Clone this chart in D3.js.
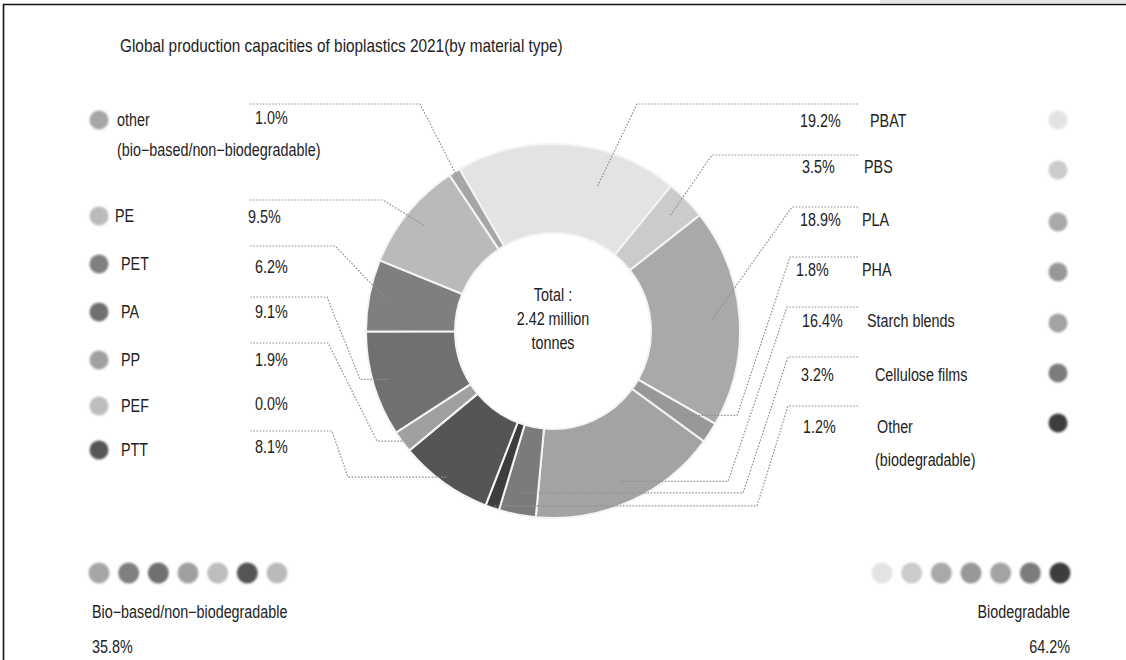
<!DOCTYPE html>
<html>
<head>
<meta charset="utf-8">
<script src="https://cdn.jsdelivr.net/npm/d3@7"></script>
<style>
  html, body { margin: 0; padding: 0; background: #fff; }
  svg { display: block; }
  text { font-family: "Liberation Sans", Arial, sans-serif; fill: #222; }
</style>
</head>
<body>
<svg id="chart" width="1126" height="660"></svg>
<script>
// Bioplastics production capacity shares 2021, in ring order (clockwise from PBAT)
const materials = ["PBAT", "PBS", "PLA", "PHA", "Starch blends", "Cellulose films", "Other (biodegradable)",
                   "PTT", "PEF", "PP", "PA", "PET", "PE", "other (bio-based/non-biodegradable)"];
const shares = [19.2, 3.5, 18.9, 1.8, 16.4, 3.2, 1.2, 8.1, 0.0, 1.9, 9.1, 6.2, 9.5, 1.0];
const greys  = ["#e3e3e3", "#cbcbcb", "#a9a9a9", "#989898", "#a3a3a3", "#7b7b7b", "#3d3d3d",
                "#555555", "#bdbdbd", "#a0a0a0", "#707070", "#7f7f7f", "#bababa", "#a6a6a6"];

// Group totals
const groupLabels = ["Bio\u2212based/non\u2212biodegradable", "Biodegradable"];
const groupShares = [35.8, 64.2];
const totalText = ["Total :", "2.42 million", "tonnes"];

// Bottom swatch rows (material keys)
const leftRow  = ["other (bio-based/non-biodegradable)", "PET", "PA", "PP", "PEF", "PTT", "PE"];
const rightRow = ["PBAT", "PBS", "PLA", "PHA", "Starch blends", "Cellulose films", "Other (biodegradable)"];

const svg = d3.select("#chart");
const cx = 553, cy = 331, rOut = 187, rIn = 98;
const deg = Math.PI / 180;
const start = -30 * deg;

const idx = Object.fromEntries(materials.map((m, i) => [m, i]));
const color = d3.scaleOrdinal().domain(materials).range(greys);
const fmt = d3.format(".1f");

// narrow-set text: glyphs compressed horizontally around the anchor point
function label(parent, x, y, str, opt = {}) {
  const sx = opt.sx || 0.82;
  return parent.append("text")
    .attr("transform", `translate(${x},${y}) scale(${sx},1)`)
    .attr("text-anchor", opt.anchor || "start")
    .style("font-size", (opt.size || 17.5) + "px")
    .text(str);
}

// frame
svg.append("rect").attr("x", 880).attr("y", 0).attr("width", 246).attr("height", 3).attr("fill", "#e6e6e6");
svg.append("path").attr("d", "M3.5,660V4.5H1126").attr("fill", "none").attr("stroke", "#111").attr("stroke-width", 1.6);

// soft edge for swatches
const defs = svg.append("defs");
defs.append("filter").attr("id", "soft").attr("x", "-50%").attr("y", "-50%").attr("width", "200%").attr("height", "200%")
  .append("feGaussianBlur").attr("stdDeviation", 0.9);

// title
label(svg, 120, 52, "Global production capacities of bioplastics 2021(by material type)", { size: 18, sx: 0.853 });

// ring
const pie = d3.pie().sort(null).value(d => d).startAngle(start).endAngle(start + 2 * Math.PI);
const arcs = pie(shares);
const arc = d3.arc().innerRadius(rIn).outerRadius(rOut);
const g = svg.append("g").attr("transform", `translate(${cx},${cy})`);
g.selectAll("path.slice").data(arcs).join("path")
  .attr("class", "slice")
  .attr("d", arc)
  .attr("fill", (d, i) => color(materials[i]))
  .attr("stroke", "#f4f4f4").attr("stroke-width", 2);

// centre text
totalText.forEach((s, i) => label(g, 0, -30 + i * 24, s, { anchor: "middle" }));

// leader layout: label line height, knee x positions, end radius, position along slice
const leaders = [
  { key: "other (bio-based/non-biodegradable)", side: "L", y: 104, xa: 420, r: 183 },
  { key: "PE",  side: "L", y: 200, xa: 383, r: 166 },
  { key: "PET", side: "L", y: 246, xa: 335, r: 171 },
  { key: "PA",  side: "L", y: 297, xa: 327, xb: 360, r: 170 },
  { key: "PP",  side: "L", y: 343, xa: 328, xb: 377, r: 186 },
  { key: "PTT", side: "L", y: 431, xa: 332, xb: 348, r: 180 },
  { key: "PBAT", side: "R", y: 104, xa: 637, r: 150, t: 0.68 },
  { key: "PBS", side: "R", y: 155, xa: 712, r: 165 },
  { key: "PLA", side: "R", y: 207, xa: 792, r: 160 },
  { key: "PHA", side: "R", y: 257, xa: 790, xb: 737, r: 155 },
  { key: "Starch blends", side: "R", y: 307, xa: 787, xb: 728, r: 165 },
  { key: "Cellulose films", side: "R", y: 357, xa: 788, xb: 743, r: 165 },
  { key: "Other (biodegradable)", side: "R", y: 406, xa: 788, xb: 757, r: 185 }
];
const line = d3.line();
svg.append("g").selectAll("path").data(leaders).join("path")
  .attr("d", L => {
    const a = arcs[idx[L.key]];
    const t = L.t == null ? 0.5 : L.t;
    const ang = a.startAngle + (a.endAngle - a.startAngle) * t;
    const ex = cx + L.r * Math.sin(ang), ey = cy - L.r * Math.cos(ang);
    const x0 = L.side === "L" ? 250 : 858;
    const pts = [[x0, L.y], [L.xa, L.y]];
    if (L.xb != null) pts.push([L.xb, ey]);
    pts.push([ex, ey]);
    return line(pts);
  })
  .attr("fill", "none").attr("stroke", "#8f8f8f").attr("stroke-width", 1.2)
  .attr("stroke-dasharray", "1.6,1.6");

// left legend
const leftRows = [
  { key: "other (bio-based/non-biodegradable)", dy: 120, name: ["other", "(bio\u2212based/non\u2212biodegradable)"], nx: 117, px: 255, py: 124 },
  { key: "PE",  dy: 216, name: ["PE"],  nx: 115, px: 248, py: 223 },
  { key: "PET", dy: 264, name: ["PET"], nx: 121, px: 255, py: 273 },
  { key: "PA",  dy: 312, name: ["PA"],  nx: 121, px: 255, py: 318 },
  { key: "PP",  dy: 360, name: ["PP"],  nx: 121, px: 255, py: 366 },
  { key: "PEF", dy: 406, name: ["PEF"], nx: 121, px: 255, py: 410 },
  { key: "PTT", dy: 450, name: ["PTT"], nx: 121, px: 255, py: 453 }
];
const lg = svg.append("g");
lg.selectAll("circle").data(leftRows).join("circle")
  .attr("cx", 99).attr("cy", d => d.dy).attr("r", 9.5)
  .attr("fill", d => color(d.key)).attr("filter", "url(#soft)");
leftRows.forEach(d => {
  d.name.forEach((s, j) => label(lg, d.nx, d.dy + 6 + j * 30, s));
  label(lg, d.px, d.py, fmt(shares[idx[d.key]]) + "%");
});

// right legend
const rightRows = [
  { key: "PBAT", dy: 120, name: ["PBAT"], nx: 870, px: 800, py: 127 },
  { key: "PBS", dy: 170, name: ["PBS"], nx: 864, px: 802, py: 173 },
  { key: "PLA", dy: 222, name: ["PLA"], nx: 862, px: 800, py: 226 },
  { key: "PHA", dy: 272, name: ["PHA"], nx: 862, px: 796, py: 276 },
  { key: "Starch blends", dy: 323, name: ["Starch blends"], nx: 867, px: 802, py: 327 },
  { key: "Cellulose films", dy: 373, name: ["Cellulose films"], nx: 875, px: 801, py: 381 },
  { key: "Other (biodegradable)", dy: 423, name: ["Other", "(biodegradable)"], nx: 877, px: 803, py: 433 }
];
const rg = svg.append("g");
rg.selectAll("circle").data(rightRows).join("circle")
  .attr("cx", 1058).attr("cy", d => d.dy).attr("r", 9.5)
  .attr("fill", d => color(d.key)).attr("filter", "url(#soft)");
rightRows.forEach(d => {
  d.name.forEach((s, j) => label(rg, j ? d.nx - 2 : d.nx, d.py + j * 33, s));
  label(rg, d.px, d.py, fmt(shares[idx[d.key]]) + "%");
});

// bottom swatch rows and group totals
const xl = d3.scalePoint().domain(leftRow).range([99, 277]);
const xr = d3.scalePoint().domain(rightRow).range([882, 1060]);
const bg = svg.append("g");
bg.selectAll("circle.l").data(leftRow).join("circle").attr("class", "l")
  .attr("cx", d => xl(d)).attr("cy", 573).attr("r", 10.5)
  .attr("fill", d => color(d)).attr("filter", "url(#soft)");
bg.selectAll("circle.r").data(rightRow).join("circle").attr("class", "r")
  .attr("cx", d => xr(d)).attr("cy", 573).attr("r", 10.5)
  .attr("fill", d => color(d)).attr("filter", "url(#soft)");

label(bg, 92, 618, groupLabels[0]);
label(bg, 92, 653, fmt(groupShares[0]) + "%");
label(bg, 1070, 618, groupLabels[1], { anchor: "end" });
label(bg, 1070, 653, fmt(groupShares[1]) + "%", { anchor: "end" });
</script>
</body>
</html>
